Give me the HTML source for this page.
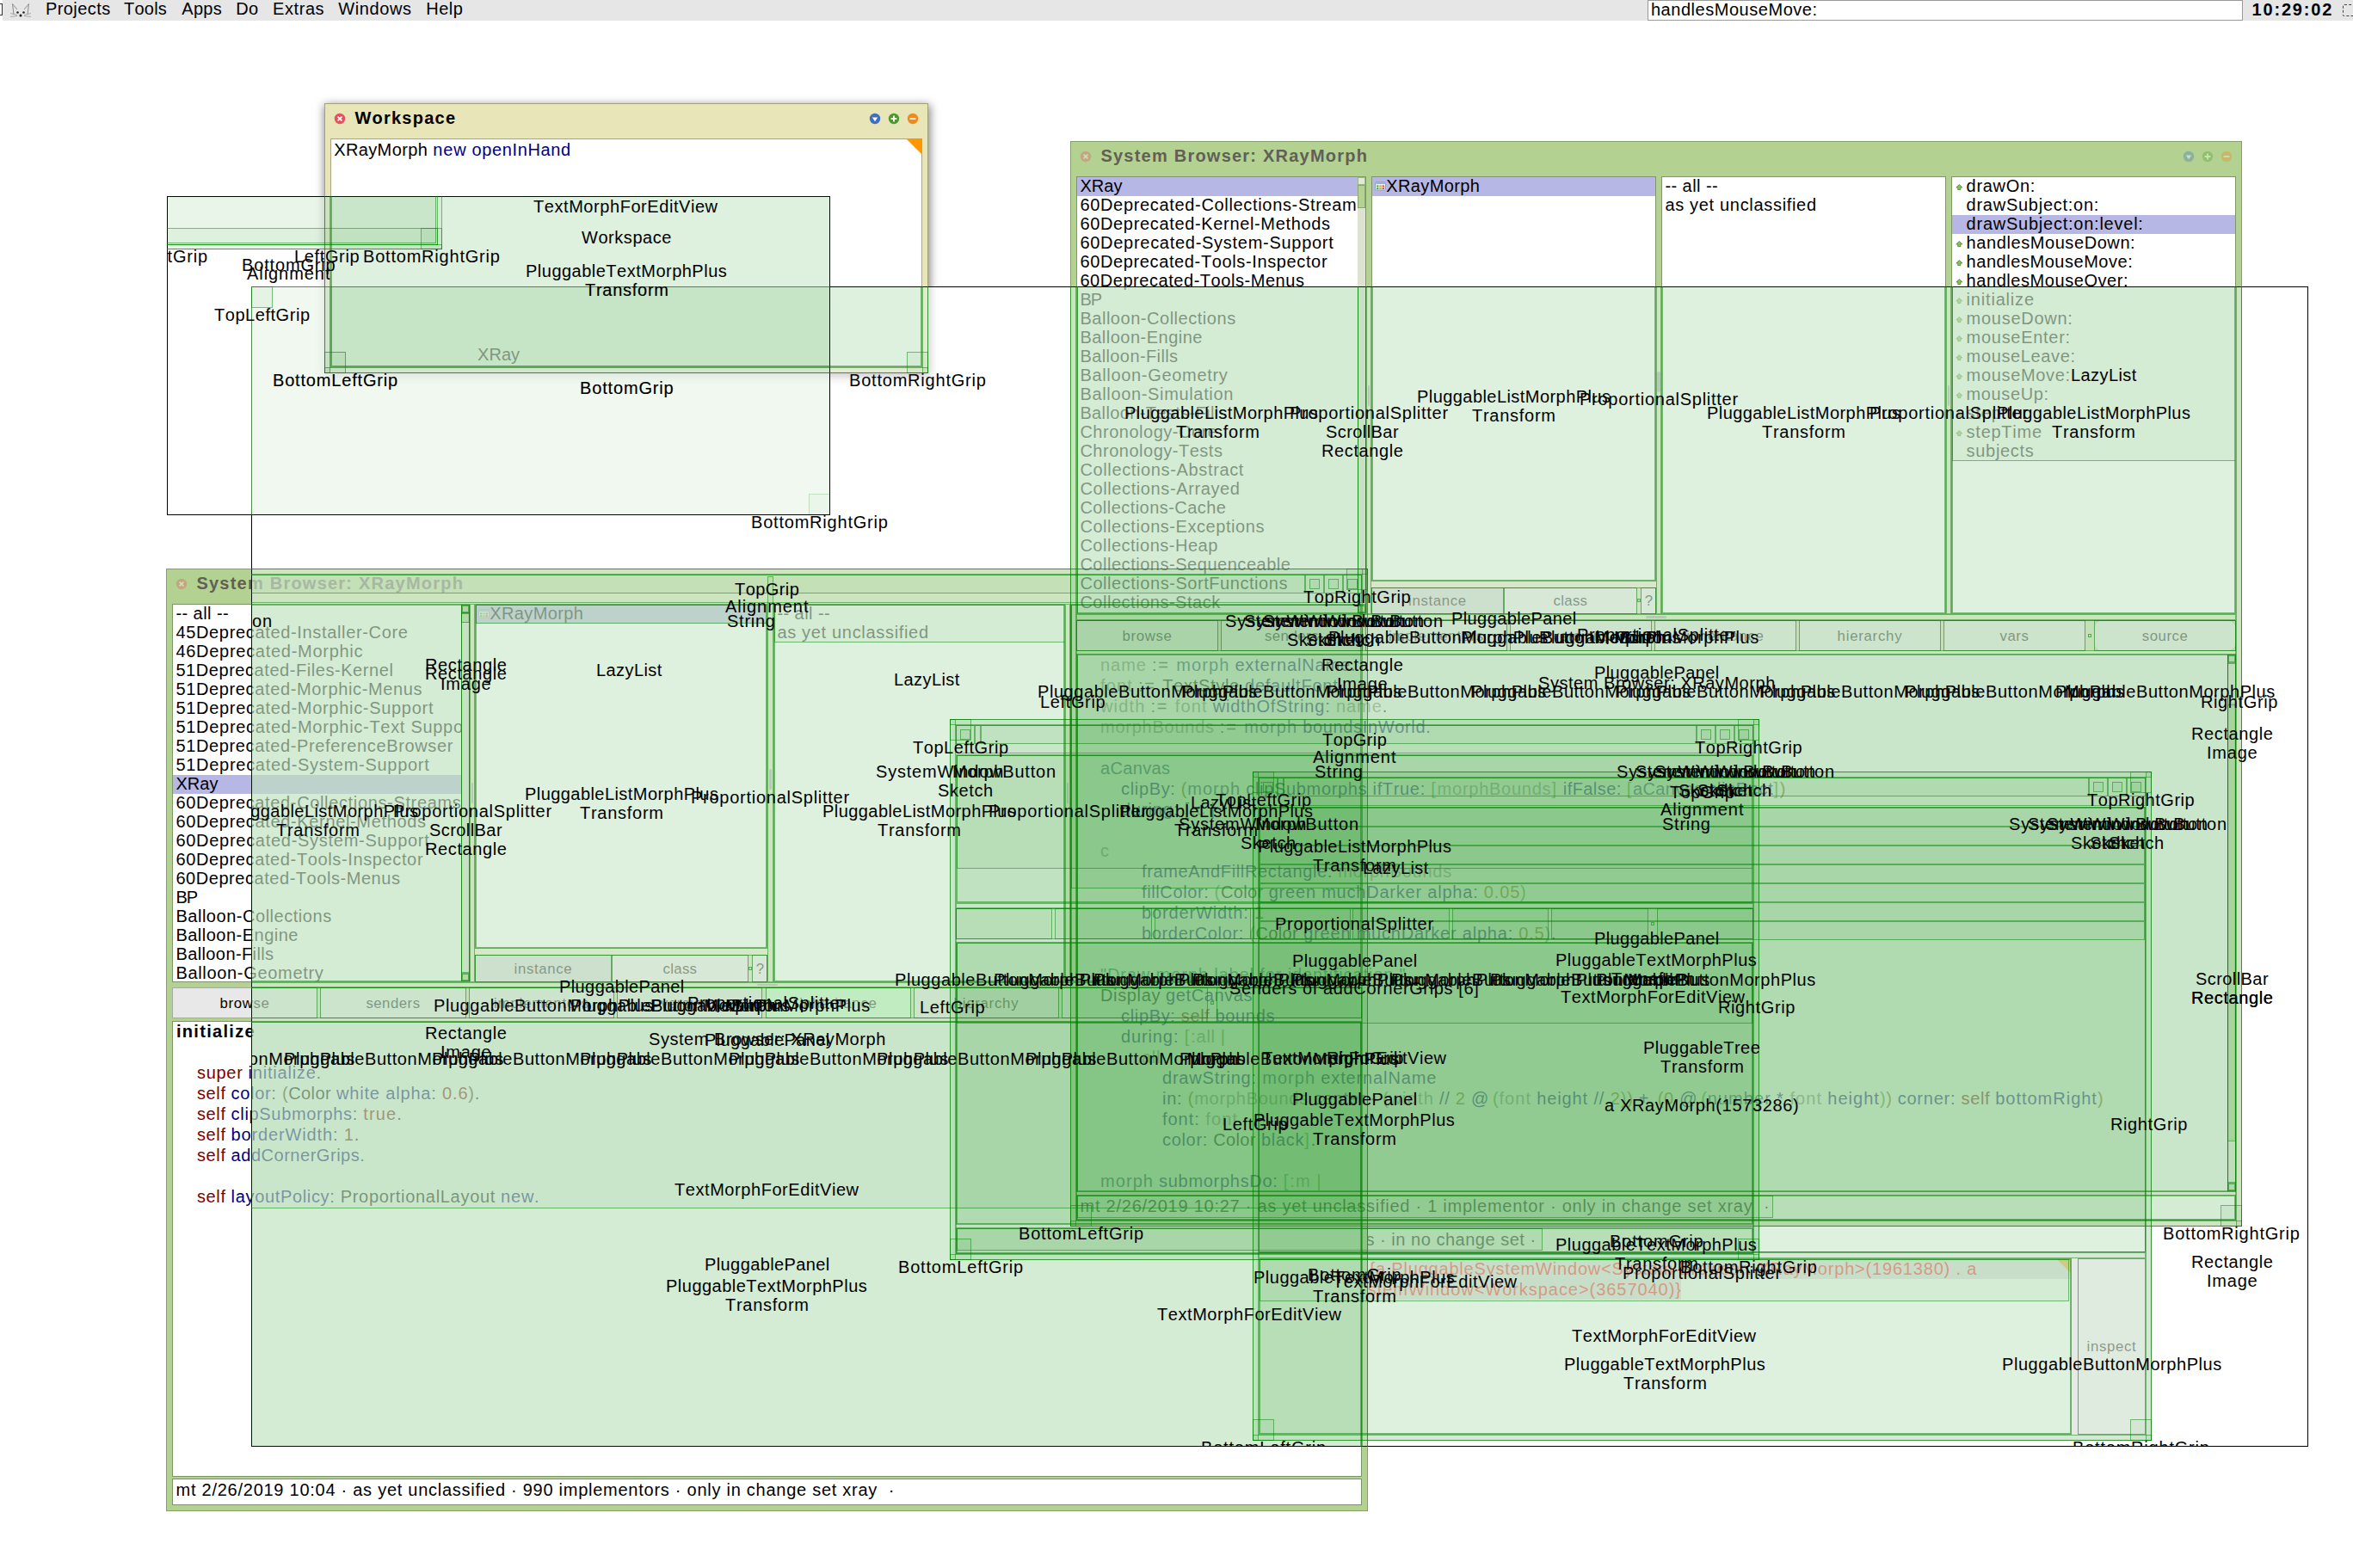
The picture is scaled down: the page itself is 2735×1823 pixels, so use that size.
<!DOCTYPE html><html><head><meta charset="utf-8"><title>Squeak XRay</title><style>
html,body{margin:0;padding:0}
body{width:2735px;height:1823px;background:#fff;position:relative;overflow:hidden;font-family:"Liberation Sans",sans-serif;color:#000}
div,span,svg{position:absolute}
span{white-space:pre;line-height:22px;height:22px;font-kerning:none}
.r{font-size:20px}
.b{font-size:20px;font-weight:bold}
.s{font-size:16.8px;color:#000}
.xray{overflow:hidden;background:rgba(255,255,255,.6)}
.xb{left:0;top:0;right:0;bottom:0;border:1px solid #000}
.g,.lb{left:0;top:0;width:100%;height:100%}
.g div{box-sizing:border-box;border:1px solid rgba(0,128,0,.5);background:rgba(0,128,0,.044);background-clip:padding-box}
.g .nf{background:none}
</style></head><body><div style="left:3px;top:0px;width:2732px;height:24px;background:#e6e6e6"></div><span class="r" style="left:52.9px;top:-0.6px;letter-spacing:0.43px">Projects</span><span class="r" style="left:144.0px;top:-0.6px;letter-spacing:0.23px">Tools</span><span class="r" style="left:211.2px;top:-0.6px;letter-spacing:0.36px">Apps</span><span class="r" style="left:274.3px;top:-0.6px;letter-spacing:0.34px">Do</span><span class="r" style="left:317.1px;top:-0.6px;letter-spacing:0.56px">Extras</span><span class="r" style="left:393.3px;top:-0.6px;letter-spacing:0.59px">Windows</span><span class="r" style="left:495.2px;top:-0.6px;letter-spacing:0.55px">Help</span><svg style="left:10px;top:2px" width="28" height="20" viewBox="0 0 28 20"><path d="M6 15L4.5 2.5L10 9M22 15L23.5 2.5L18 9" fill="none" stroke="#8a8a8a" stroke-width="1"/><path d="M2 13.5L10 15.5M2 17.5L10 16.5M26 13.5L18 15.5M26 17.5L18 16.5" stroke="#999" stroke-width=".8" fill="none"/><circle cx="10.5" cy="12.5" r="1.3" fill="#222"/><circle cx="17.5" cy="12.5" r="1.3" fill="#222"/><circle cx="14" cy="16" r="1.5" fill="#111"/></svg><div style="left:0px;top:4px;width:3px;height:14px;border:1px solid #333;border-left:none;box-sizing:border-box"></div><div style="left:1915px;top:0px;width:692px;height:24px;background:#fff;border:1px solid #9a9a9a;box-sizing:border-box"></div><span class="r" style="left:1918.9px;top:-0.3px;letter-spacing:0.54px">handlesMouseMove:</span><span class="b" style="left:2617.6px;top:-0.3px;letter-spacing:1.80px">10:29:02</span><div style="left:2723px;top:5px;width:17px;height:14px;border:1px dashed #444;box-sizing:border-box;border-radius:2px"></div><div style="left:1456px;top:897px;width:1045px;height:778px;background:#d6d6d6;border:1px solid #999;box-sizing:border-box;"></div><svg style="left:1466px;top:907px" width="16" height="16" viewBox="-8 -8 16 16"><g opacity=".33"><circle r="6.2" fill="#e8505b"/><path d="M-2.4-2.4L2.4 2.4M2.4-2.4L-2.4 2.4" stroke="#fff" stroke-width="1.7" fill="none"/></g></svg><svg style="left:2431px;top:907px" width="16" height="16" viewBox="-8 -8 16 16"><g opacity=".33"><circle r="6.2" fill="#3f6fc0"/><path d="M-3.2-1.6L3.2-1.6L0 3.2z" fill="#fff"/></g></svg><svg style="left:2453px;top:907px" width="16" height="16" viewBox="-8 -8 16 16"><g opacity=".33"><circle r="6.2" fill="#4a9c2a"/><path d="M-3.4 0H3.4M0-3.4V3.4" stroke="#fff" stroke-width="1.8" fill="none"/></g></svg><svg style="left:2475px;top:907px" width="16" height="16" viewBox="-8 -8 16 16"><g opacity=".33"><circle r="6.2" fill="#f08a1c"/><path d="M-3.4 0H3.4" stroke="#fff" stroke-width="1.8" fill="none"/></g></svg><span class="b" style="left:1491.4px;top:903.0px;letter-spacing:1.66px;color:#625f55">a XRayMorph(1573286)</span><div style="left:1463px;top:938px;width:1031px;height:518px;background:#fff;border:1px solid #9a9a9a;box-sizing:border-box;overflow:hidden;"></div><div style="left:1463px;top:1463px;width:945px;height:205px;background:#fff;border:1px solid #9a9a9a;box-sizing:border-box;overflow:hidden;"><div style="left:128px;top:0px;width:815px;height:23px;background:#d9d9d9"></div><div style="left:0px;top:23px;width:490px;height:24px;background:#d9d9d9"></div><span class="r" style="left:3.0px;top:0.0px;letter-spacing:0.63px;color:#000">self subjects </span><span class="r" style="left:127.5px;top:0.0px;letter-spacing:0.81px;color:#ff0a0a">{a PluggableSystemWindow&lt;System Browser: XRayMorph&gt;(1961380) . a</span><span class="r" style="left:3.0px;top:24.0px;letter-spacing:0.95px;color:#ff0a0a">PluggableSystemWindow&lt;Workspace&gt;(3657040)}</span><svg style="left:927px;top:0" width="16" height="16"><path d="M0 0H16V16z" fill="#f0a000"/></svg></div><div style="left:2415px;top:1463px;width:79px;height:205px;background:#e6e6e6;border:1px solid #a8a8a8;box-sizing:border-box;"></div><span class="s" style="left:2425.5px;top:1555.0px;letter-spacing:0.68px;color:#000">inspect</span><div style="left:1104px;top:836px;width:941px;height:629px;background:#c3e0e6;border:1px solid #8aa;box-sizing:border-box;"></div><svg style="left:1114px;top:846px" width="16" height="16" viewBox="-8 -8 16 16"><g opacity=".33"><circle r="6.2" fill="#e8505b"/><path d="M-2.4-2.4L2.4 2.4M2.4-2.4L-2.4 2.4" stroke="#fff" stroke-width="1.7" fill="none"/></g></svg><svg style="left:1975px;top:846px" width="16" height="16" viewBox="-8 -8 16 16"><g opacity=".33"><circle r="6.2" fill="#3f6fc0"/><path d="M-3.2-1.6L3.2-1.6L0 3.2z" fill="#fff"/></g></svg><svg style="left:1997px;top:846px" width="16" height="16" viewBox="-8 -8 16 16"><g opacity=".33"><circle r="6.2" fill="#4a9c2a"/><path d="M-3.4 0H3.4M0-3.4V3.4" stroke="#fff" stroke-width="1.8" fill="none"/></g></svg><svg style="left:2019px;top:846px" width="16" height="16" viewBox="-8 -8 16 16"><g opacity=".33"><circle r="6.2" fill="#f08a1c"/><path d="M-3.4 0H3.4" stroke="#fff" stroke-width="1.8" fill="none"/></g></svg><span class="b" style="left:1139.4px;top:842.0px;letter-spacing:1.22px;color:#625f55">Senders of addCornerGrips [6]</span><div style="left:1111px;top:877px;width:927px;height:173px;background:#fff;border:1px solid #8aa;box-sizing:border-box;overflow:hidden;"></div><div style="left:1111px;top:1095px;width:927px;height:329px;background:#fff;border:1px solid #8aa;box-sizing:border-box;overflow:hidden;"></div><div style="left:1111px;top:1427px;width:927px;height:31px;background:#fff;border:1px solid #8aa;box-sizing:border-box;overflow:hidden;"><span class="r" style="left:475.5px;top:2.0px;letter-spacing:0.52px">s · in no change set ·</span></div><div style="left:193px;top:661px;width:1397px;height:1096px;background:#b3d191;border:1px solid #86a06a;box-sizing:border-box;"></div><svg style="left:203px;top:671px" width="16" height="16" viewBox="-8 -8 16 16"><g opacity=".33"><circle r="6.2" fill="#e8505b"/><path d="M-2.4-2.4L2.4 2.4M2.4-2.4L-2.4 2.4" stroke="#fff" stroke-width="1.7" fill="none"/></g></svg><svg style="left:1520px;top:671px" width="16" height="16" viewBox="-8 -8 16 16"><g opacity=".33"><circle r="6.2" fill="#3f6fc0"/><path d="M-3.2-1.6L3.2-1.6L0 3.2z" fill="#fff"/></g></svg><svg style="left:1542px;top:671px" width="16" height="16" viewBox="-8 -8 16 16"><g opacity=".33"><circle r="6.2" fill="#4a9c2a"/><path d="M-3.4 0H3.4M0-3.4V3.4" stroke="#fff" stroke-width="1.8" fill="none"/></g></svg><svg style="left:1564px;top:671px" width="16" height="16" viewBox="-8 -8 16 16"><g opacity=".33"><circle r="6.2" fill="#f08a1c"/><path d="M-3.4 0H3.4" stroke="#fff" stroke-width="1.8" fill="none"/></g></svg><span class="b" style="left:228.4px;top:667.0px;letter-spacing:1.23px;color:#625f55">System Browser: XRayMorph</span><div style="left:200px;top:702px;width:346px;height:440px;background:#fff;border:1px solid #7f956a;box-sizing:border-box;overflow:hidden;"><div style="left:0px;top:0px;width:335px;height:438px;overflow:hidden"><div style="left:0px;top:198px;width:335px;height:22px;background:#b7b7e6"></div><span class="r" style="left:3.4px;top:-1.0px;letter-spacing:0.44px">-- all --</span><span class="r" style="left:3.4px;top:21.0px;letter-spacing:0.66px">45Deprecated-Installer-Core</span><span class="r" style="left:3.4px;top:43.0px;letter-spacing:0.72px">46Deprecated-Morphic</span><span class="r" style="left:3.4px;top:65.0px;letter-spacing:0.56px">51Deprecated-Files-Kernel</span><span class="r" style="left:3.4px;top:87.0px;letter-spacing:0.64px">51Deprecated-Morphic-Menus</span><span class="r" style="left:3.4px;top:109.0px;letter-spacing:0.70px">51Deprecated-Morphic-Support</span><span class="r" style="left:3.4px;top:131.0px;letter-spacing:0.71px">51Deprecated-Morphic-Text Support</span><span class="r" style="left:3.4px;top:153.0px;letter-spacing:0.64px">51Deprecated-PreferenceBrowser</span><span class="r" style="left:3.4px;top:175.0px;letter-spacing:0.72px">51Deprecated-System-Support</span><span class="r" style="left:3.4px;top:197.0px;letter-spacing:0.05px">XRay</span><span class="r" style="left:3.4px;top:219.0px;letter-spacing:0.65px">60Deprecated-Collections-Streams</span><span class="r" style="left:3.4px;top:241.0px;letter-spacing:0.66px">60Deprecated-Kernel-Methods</span><span class="r" style="left:3.4px;top:263.0px;letter-spacing:0.72px">60Deprecated-System-Support</span><span class="r" style="left:3.4px;top:285.0px;letter-spacing:0.63px">60Deprecated-Tools-Inspector</span><span class="r" style="left:3.4px;top:307.0px;letter-spacing:0.55px">60Deprecated-Tools-Menus</span><span class="r" style="left:3.4px;top:329.0px;letter-spacing:-1.10px">BP</span><span class="r" style="left:3.4px;top:351.0px;letter-spacing:0.53px">Balloon-Collections</span><span class="r" style="left:3.4px;top:373.0px;letter-spacing:0.49px">Balloon-Engine</span><span class="r" style="left:3.4px;top:395.0px;letter-spacing:0.40px">Balloon-Fills</span><span class="r" style="left:3.4px;top:417.0px;letter-spacing:0.68px">Balloon-Geometry</span></div><div style="left:335px;top:0px;width:9px;height:438px;background:#dde3d0"></div><div style="left:335px;top:0px;width:9px;height:9px;background:#a9cf86;border:1px solid #9ab882;box-sizing:border-box"></div><div style="left:335px;top:429px;width:9px;height:9px;background:#b4d292;border:1px solid #9ab882;box-sizing:border-box"></div><div style="left:335px;top:9px;width:9px;height:12px;background:#b4d292;border:1px solid #8aa66c;box-sizing:border-box"></div></div><div style="left:552px;top:702px;width:340px;height:401px;background:#fff;border:1px solid #7f956a;box-sizing:border-box;overflow:hidden;"><div style="left:0px;top:0px;width:338px;height:399px;overflow:hidden"><div style="left:0px;top:0px;width:339px;height:22px;background:#b7b7e6"></div><svg style="left:2.5px;top:5px" width="14" height="11" viewBox="0 0 14 11"><rect x=".5" y=".5" width="12" height="9.5" rx="1" fill="#eaf1f8" stroke="#8aa0c0"/><rect x=".5" y=".5" width="12" height="2.5" fill="#9db4d6"/><rect x="2" y="4.5" width="2.4" height="1.8" fill="#5aa040"/><rect x="5.3" y="4.5" width="2.4" height="1.8" fill="#d8a020"/><rect x="8.6" y="4.5" width="2.4" height="1.8" fill="#d05040"/><rect x="2" y="7.2" width="2.4" height="1.8" fill="#5aa040"/><rect x="5.3" y="7.2" width="2.4" height="1.8" fill="#d8a020"/><rect x="8.6" y="7.2" width="2.4" height="1.8" fill="#d05040"/></svg><span class="r" style="left:16.3px;top:-1.0px;letter-spacing:0.38px">XRayMorph</span></div></div><div style="left:899px;top:702px;width:339px;height:440px;background:#fff;border:1px solid #7f956a;box-sizing:border-box;overflow:hidden;"><div style="left:0px;top:0px;width:337px;height:438px;overflow:hidden"><span class="r" style="left:3.4px;top:-1.0px;letter-spacing:0.44px">-- all --</span><span class="r" style="left:3.4px;top:21.0px;letter-spacing:0.68px">as yet unclassified</span></div></div><div style="left:1244px;top:702px;width:339px;height:440px;background:#fff;border:1px solid #7d9368;box-sizing:border-box;overflow:hidden;"></div><div style="left:552px;top:1110px;width:159px;height:32px;background:#cfcfcf;border:1px solid #a8a8a8;box-sizing:border-box;"></div><span class="s" style="left:597.6px;top:1115.5px;letter-spacing:0.65px;color:#000">instance</span><div style="left:711px;top:1110px;width:159px;height:32px;background:#ececec;border:1px solid #a8a8a8;box-sizing:border-box;"></div><span class="s" style="left:770.6px;top:1115.5px;letter-spacing:0.29px;color:#000">class</span><div style="left:874px;top:1110px;width:18px;height:32px;background:#ececec;border:1px solid #a8a8a8;box-sizing:border-box;"></div><span class="s" style="left:878.8px;top:1115.5px;letter-spacing:-0.84px;color:#000">?</span><div style="left:871px;top:1124px;width:3px;height:4px;border:1px solid #8a8;box-sizing:border-box"></div><div style="left:548px;top:910px;width:2px;height:24px;background:#7b8478;border-radius:2px"></div><div style="left:894px;top:894px;width:3px;height:24px;background:#7b8478;border-radius:2px"></div><div style="left:1240px;top:910px;width:2px;height:24px;background:#7b8478;border-radius:2px"></div><div style="left:880px;top:1144px;width:24px;height:2px;background:#7b8478;border-radius:2px"></div><div style="left:200px;top:1148px;width:169px;height:36px;background:#e8e8e8;border:1px solid #a8a8a8;box-sizing:border-box;"></div><span class="s" style="left:255.6px;top:1155.5px;letter-spacing:0.61px;color:#000">browse</span><div style="left:372px;top:1148px;width:170px;height:36px;background:#e8e8e8;border:1px solid #a8a8a8;box-sizing:border-box;"></div><span class="s" style="left:425.4px;top:1155.5px;letter-spacing:0.50px;color:#000">senders</span><div style="left:545px;top:1148px;width:169px;height:36px;background:#e8e8e8;border:1px solid #a8a8a8;box-sizing:border-box;"></div><span class="s" style="left:574.0px;top:1155.5px;letter-spacing:0.85px;color:#000">implementors</span><div style="left:717px;top:1148px;width:169px;height:36px;background:#e8e8e8;border:1px solid #a8a8a8;box-sizing:border-box;"></div><span class="s" style="left:768.0px;top:1155.5px;letter-spacing:0.55px;color:#000">versions</span><div style="left:890px;top:1148px;width:169px;height:36px;background:#c6ffc6;border:1px solid #a8a8a8;box-sizing:border-box;"></div><span class="s" style="left:929.3px;top:1155.5px;letter-spacing:0.75px;color:#000">inheritance</span><div style="left:1062px;top:1148px;width:169px;height:36px;background:#e8e8e8;border:1px solid #a8a8a8;box-sizing:border-box;"></div><span class="s" style="left:1108.6px;top:1155.5px;letter-spacing:0.74px;color:#000">hierarchy</span><div style="left:1234px;top:1148px;width:170px;height:36px;background:#e8e8e8;border:1px solid #a8a8a8;box-sizing:border-box;"></div><span class="s" style="left:1301.9px;top:1155.5px;letter-spacing:0.61px;color:#000">vars</span><div style="left:1414px;top:1148px;width:169px;height:36px;background:#e8e8e8;border:1px solid #a8a8a8;box-sizing:border-box;border-radius:8px;"></div><span class="s" style="left:1471.8px;top:1155.5px;letter-spacing:0.51px;color:#000">source</span><div style="left:1407px;top:1164px;width:4px;height:4px;border:1px solid #6a6;box-sizing:border-box"></div><div style="left:200px;top:1187px;width:1383px;height:530px;background:#fff;border:1px solid #7d9368;box-sizing:border-box;overflow:hidden;"><span class="b" style="left:4.0px;top:0.0px;letter-spacing:1.30px;color:#000">initialize</span><span class="r" style="left:28.0px;top:48.0px;letter-spacing:0.70px;color:#800000">super</span><span class="r" style="left:87.6px;top:48.0px;letter-spacing:0.78px;color:#000080">initialize.</span><span class="r" style="left:28.0px;top:72.0px;letter-spacing:0.61px;color:#800000">self</span><span class="r" style="left:67.6px;top:72.0px;letter-spacing:0.68px;color:#000080">color: </span><span class="r" style="left:126.9px;top:72.0px;letter-spacing:0.75px;color:#404020">(</span><span class="r" style="left:134.3px;top:72.0px;letter-spacing:0.37px;color:#000000">Color</span><span class="r" style="left:189.9px;top:72.0px;letter-spacing:0.84px;color:#000080">white alpha: </span><span class="r" style="left:313.1px;top:72.0px;letter-spacing:0.81px;color:#800000">0.6</span><span class="r" style="left:343.3px;top:72.0px;letter-spacing:0.75px;color:#404020">)</span><span class="r" style="left:350.8px;top:72.0px;letter-spacing:0.48px;color:#000000">.</span><span class="r" style="left:28.0px;top:96.0px;letter-spacing:0.61px;color:#800000">self</span><span class="r" style="left:67.6px;top:96.0px;letter-spacing:0.68px;color:#000080">clipSubmorphs: </span><span class="r" style="left:221.3px;top:96.0px;letter-spacing:1.13px;color:#800000">true</span><span class="r" style="left:260.3px;top:96.0px;letter-spacing:0.48px;color:#000000">.</span><span class="r" style="left:28.0px;top:120.0px;letter-spacing:0.61px;color:#800000">self</span><span class="r" style="left:67.6px;top:120.0px;letter-spacing:0.85px;color:#000080">borderWidth: </span><span class="r" style="left:198.8px;top:120.0px;letter-spacing:0.97px;color:#800000">1</span><span class="r" style="left:210.8px;top:120.0px;letter-spacing:0.48px;color:#000000">.</span><span class="r" style="left:28.0px;top:144.0px;letter-spacing:0.61px;color:#800000">self</span><span class="r" style="left:67.6px;top:144.0px;letter-spacing:0.53px;color:#000080">addCornerGrips.</span><span class="r" style="left:28.0px;top:192.0px;letter-spacing:0.61px;color:#800000">self</span><span class="r" style="left:67.6px;top:192.0px;letter-spacing:0.66px;color:#000080">layoutPolicy: </span><span class="r" style="left:194.7px;top:192.0px;letter-spacing:0.69px;color:#000000">ProportionalLayout</span><span class="r" style="left:381.1px;top:192.0px;letter-spacing:0.77px;color:#000080">new.</span></div><div style="left:200px;top:1719px;width:1383px;height:31px;background:#fff;border:1px solid #7d9368;box-sizing:border-box;overflow:hidden;"><span class="r" style="left:3.6px;top:1.3px;letter-spacing:0.74px">mt 2/26/2019 10:04 · as yet unclassified · 990 implementors · only in change set xray  ·</span></div><div style="left:1244px;top:164px;width:1362px;height:1262px;background:#b3d191;border:1px solid #86a06a;box-sizing:border-box;"></div><svg style="left:1254px;top:174px" width="16" height="16" viewBox="-8 -8 16 16"><g opacity=".33"><circle r="6.2" fill="#e8505b"/><path d="M-2.4-2.4L2.4 2.4M2.4-2.4L-2.4 2.4" stroke="#fff" stroke-width="1.7" fill="none"/></g></svg><svg style="left:2536px;top:174px" width="16" height="16" viewBox="-8 -8 16 16"><g opacity=".33"><circle r="6.2" fill="#3f6fc0"/><path d="M-3.2-1.6L3.2-1.6L0 3.2z" fill="#fff"/></g></svg><svg style="left:2558px;top:174px" width="16" height="16" viewBox="-8 -8 16 16"><g opacity=".33"><circle r="6.2" fill="#4a9c2a"/><path d="M-3.4 0H3.4M0-3.4V3.4" stroke="#fff" stroke-width="1.8" fill="none"/></g></svg><svg style="left:2580px;top:174px" width="16" height="16" viewBox="-8 -8 16 16"><g opacity=".33"><circle r="6.2" fill="#f08a1c"/><path d="M-3.4 0H3.4" stroke="#fff" stroke-width="1.8" fill="none"/></g></svg><span class="b" style="left:1279.4px;top:170.0px;letter-spacing:1.23px;color:#625f55">System Browser: XRayMorph</span><div style="left:1251px;top:205px;width:337px;height:509px;background:#fff;border:1px solid #7f956a;box-sizing:border-box;overflow:hidden;"><div style="left:0px;top:0px;width:326px;height:507px;overflow:hidden"><div style="left:0px;top:0px;width:326px;height:22px;background:#b7b7e6"></div><span class="r" style="left:3.4px;top:-1.0px;letter-spacing:0.05px">XRay</span><span class="r" style="left:3.4px;top:21.0px;letter-spacing:0.67px">60Deprecated-Collections-Stream</span><span class="r" style="left:3.4px;top:43.0px;letter-spacing:0.66px">60Deprecated-Kernel-Methods</span><span class="r" style="left:3.4px;top:65.0px;letter-spacing:0.72px">60Deprecated-System-Support</span><span class="r" style="left:3.4px;top:87.0px;letter-spacing:0.63px">60Deprecated-Tools-Inspector</span><span class="r" style="left:3.4px;top:109.0px;letter-spacing:0.55px">60Deprecated-Tools-Menus</span><span class="r" style="left:3.4px;top:131.0px;letter-spacing:-1.10px">BP</span><span class="r" style="left:3.4px;top:153.0px;letter-spacing:0.53px">Balloon-Collections</span><span class="r" style="left:3.4px;top:175.0px;letter-spacing:0.49px">Balloon-Engine</span><span class="r" style="left:3.4px;top:197.0px;letter-spacing:0.40px">Balloon-Fills</span><span class="r" style="left:3.4px;top:219.0px;letter-spacing:0.68px">Balloon-Geometry</span><span class="r" style="left:3.4px;top:241.0px;letter-spacing:0.66px">Balloon-Simulation</span><span class="r" style="left:3.4px;top:263.0px;letter-spacing:0.37px">Balloon-Tests-Fills</span><span class="r" style="left:3.4px;top:285.0px;letter-spacing:0.51px">Chronology-Core</span><span class="r" style="left:3.4px;top:307.0px;letter-spacing:0.51px">Chronology-Tests</span><span class="r" style="left:3.4px;top:329.0px;letter-spacing:0.64px">Collections-Abstract</span><span class="r" style="left:3.4px;top:351.0px;letter-spacing:0.61px">Collections-Arrayed</span><span class="r" style="left:3.4px;top:373.0px;letter-spacing:0.45px">Collections-Cache</span><span class="r" style="left:3.4px;top:395.0px;letter-spacing:0.56px">Collections-Exceptions</span><span class="r" style="left:3.4px;top:417.0px;letter-spacing:0.51px">Collections-Heap</span><span class="r" style="left:3.4px;top:439.0px;letter-spacing:0.53px">Collections-Sequenceable</span><span class="r" style="left:3.4px;top:461.0px;letter-spacing:0.55px">Collections-SortFunctions</span><span class="r" style="left:3.4px;top:483.0px;letter-spacing:0.52px">Collections-Stack</span><span class="r" style="left:3.4px;top:505.0px;letter-spacing:0.57px">Collections-Streams</span></div><div style="left:326px;top:0px;width:9px;height:507px;background:#dde3d0"></div><div style="left:326px;top:0px;width:9px;height:9px;background:#e4e8dc;border:1px solid #9ab882;box-sizing:border-box"></div><div style="left:326px;top:498px;width:9px;height:9px;background:#b4d292;border:1px solid #9ab882;box-sizing:border-box"></div><div style="left:326px;top:9px;width:9px;height:27px;background:#b4d292;border:1px solid #8aa66c;box-sizing:border-box"></div></div><div style="left:1594px;top:205px;width:331px;height:471px;background:#fff;border:1px solid #7f956a;box-sizing:border-box;overflow:hidden;"><div style="left:0px;top:0px;width:329px;height:469px;overflow:hidden"><div style="left:0px;top:0px;width:330px;height:22px;background:#b7b7e6"></div><svg style="left:2.5px;top:5px" width="14" height="11" viewBox="0 0 14 11"><rect x=".5" y=".5" width="12" height="9.5" rx="1" fill="#eaf1f8" stroke="#8aa0c0"/><rect x=".5" y=".5" width="12" height="2.5" fill="#9db4d6"/><rect x="2" y="4.5" width="2.4" height="1.8" fill="#5aa040"/><rect x="5.3" y="4.5" width="2.4" height="1.8" fill="#d8a020"/><rect x="8.6" y="4.5" width="2.4" height="1.8" fill="#d05040"/><rect x="2" y="7.2" width="2.4" height="1.8" fill="#5aa040"/><rect x="5.3" y="7.2" width="2.4" height="1.8" fill="#d8a020"/><rect x="8.6" y="7.2" width="2.4" height="1.8" fill="#d05040"/></svg><span class="r" style="left:16.3px;top:-1.0px;letter-spacing:0.38px">XRayMorph</span></div></div><div style="left:1931px;top:205px;width:331px;height:509px;background:#fff;border:1px solid #7f956a;box-sizing:border-box;overflow:hidden;"><div style="left:0px;top:0px;width:329px;height:507px;overflow:hidden"><span class="r" style="left:3.4px;top:-1.0px;letter-spacing:0.44px">-- all --</span><span class="r" style="left:3.4px;top:21.0px;letter-spacing:0.68px">as yet unclassified</span></div></div><div style="left:2268px;top:205px;width:331px;height:509px;background:#fff;border:1px solid #7f956a;box-sizing:border-box;overflow:hidden;"><div style="left:0px;top:0px;width:329px;height:507px;overflow:hidden"><div style="left:0px;top:44px;width:330px;height:22px;background:#b7b7e6"></div><svg style="left:4.3px;top:8px" width="9" height="8" viewBox="0 0 9 8"><path d="M4.3 .6L7.8 3.9H5.8V6.6H2.8V3.9H.8z" fill="#8cc25c" stroke="#4f8a2c" stroke-width=".9"/></svg><span class="r" style="left:16.6px;top:-1.0px;letter-spacing:0.70px">drawOn:</span><span class="r" style="left:16.6px;top:21.0px;letter-spacing:0.74px">drawSubject:on:</span><span class="r" style="left:16.6px;top:43.0px;letter-spacing:0.76px">drawSubject:on:level:</span><svg style="left:4.3px;top:74px" width="9" height="8" viewBox="0 0 9 8"><path d="M4.3 .6L7.8 3.9H5.8V6.6H2.8V3.9H.8z" fill="#8cc25c" stroke="#4f8a2c" stroke-width=".9"/></svg><span class="r" style="left:16.6px;top:65.0px;letter-spacing:0.58px">handlesMouseDown:</span><svg style="left:4.3px;top:96px" width="9" height="8" viewBox="0 0 9 8"><path d="M4.3 .6L7.8 3.9H5.8V6.6H2.8V3.9H.8z" fill="#8cc25c" stroke="#4f8a2c" stroke-width=".9"/></svg><span class="r" style="left:16.6px;top:87.0px;letter-spacing:0.54px">handlesMouseMove:</span><svg style="left:4.3px;top:118px" width="9" height="8" viewBox="0 0 9 8"><path d="M4.3 .6L7.8 3.9H5.8V6.6H2.8V3.9H.8z" fill="#8cc25c" stroke="#4f8a2c" stroke-width=".9"/></svg><span class="r" style="left:16.6px;top:109.0px;letter-spacing:0.56px">handlesMouseOver:</span><svg style="left:4.3px;top:140px" width="9" height="8" viewBox="0 0 9 8"><path d="M4.3 .6L7.8 3.9H5.8V6.6H2.8V3.9H.8z" fill="#8cc25c" stroke="#4f8a2c" stroke-width=".9"/></svg><span class="r" style="left:16.6px;top:131.0px;letter-spacing:0.81px">initialize</span><svg style="left:4.3px;top:162px" width="9" height="8" viewBox="0 0 9 8"><path d="M4.3 .6L7.8 3.9H5.8V6.6H2.8V3.9H.8z" fill="#8cc25c" stroke="#4f8a2c" stroke-width=".9"/></svg><span class="r" style="left:16.6px;top:153.0px;letter-spacing:0.73px">mouseDown:</span><svg style="left:4.3px;top:184px" width="9" height="8" viewBox="0 0 9 8"><path d="M4.3 .6L7.8 3.9H5.8V6.6H2.8V3.9H.8z" fill="#8cc25c" stroke="#4f8a2c" stroke-width=".9"/></svg><span class="r" style="left:16.6px;top:175.0px;letter-spacing:0.71px">mouseEnter:</span><svg style="left:4.3px;top:206px" width="9" height="8" viewBox="0 0 9 8"><path d="M4.3 .6L7.8 3.9H5.8V6.6H2.8V3.9H.8z" fill="#8cc25c" stroke="#4f8a2c" stroke-width=".9"/></svg><span class="r" style="left:16.6px;top:197.0px;letter-spacing:0.63px">mouseLeave:</span><svg style="left:4.3px;top:228px" width="9" height="8" viewBox="0 0 9 8"><path d="M4.3 .6L7.8 3.9H5.8V6.6H2.8V3.9H.8z" fill="#8cc25c" stroke="#4f8a2c" stroke-width=".9"/></svg><span class="r" style="left:16.6px;top:219.0px;letter-spacing:0.66px">mouseMove:</span><svg style="left:4.3px;top:250px" width="9" height="8" viewBox="0 0 9 8"><path d="M4.3 .6L7.8 3.9H5.8V6.6H2.8V3.9H.8z" fill="#8cc25c" stroke="#4f8a2c" stroke-width=".9"/></svg><span class="r" style="left:16.6px;top:241.0px;letter-spacing:0.62px">mouseUp:</span><svg style="left:4.3px;top:272px" width="9" height="8" viewBox="0 0 9 8"><path d="M4.3 .6L7.8 3.9H5.8V6.6H2.8V3.9H.8z" fill="#8cc25c" stroke="#4f8a2c" stroke-width=".9"/></svg><span class="r" style="left:16.6px;top:263.0px;letter-spacing:0.82px">step</span><svg style="left:4.3px;top:294px" width="9" height="8" viewBox="0 0 9 8"><path d="M4.3 .6L7.8 3.9H5.8V6.6H2.8V3.9H.8z" fill="#8cc25c" stroke="#4f8a2c" stroke-width=".9"/></svg><span class="r" style="left:16.6px;top:285.0px;letter-spacing:0.74px">stepTime</span><span class="r" style="left:16.6px;top:307.0px;letter-spacing:0.68px">subjects</span></div></div><div style="left:1594px;top:683px;width:154px;height:31px;background:#cfcfcf;border:1px solid #a8a8a8;box-sizing:border-box;"></div><span class="s" style="left:1637.1px;top:688.0px;letter-spacing:0.65px;color:#000">instance</span><div style="left:1748px;top:683px;width:155px;height:31px;background:#ececec;border:1px solid #a8a8a8;box-sizing:border-box;"></div><span class="s" style="left:1805.6px;top:688.0px;letter-spacing:0.29px;color:#000">class</span><div style="left:1907px;top:683px;width:18px;height:31px;background:#ececec;border:1px solid #a8a8a8;box-sizing:border-box;"></div><span class="s" style="left:1911.8px;top:688.0px;letter-spacing:-0.84px;color:#000">?</span><div style="left:1904px;top:696px;width:3px;height:4px;border:1px solid #8a8;box-sizing:border-box"></div><div style="left:1590px;top:448px;width:2px;height:24px;background:#7b8478;border-radius:2px"></div><div style="left:1926px;top:432px;width:4px;height:24px;background:#7b8478;border-radius:2px"></div><div style="left:2264px;top:448px;width:2px;height:24px;background:#7b8478;border-radius:2px"></div><div style="left:1913px;top:716px;width:24px;height:3px;background:#7b8478;border-radius:2px"></div><div style="left:1251px;top:721px;width:165px;height:36px;background:#e8e8e8;border:1px solid #a8a8a8;box-sizing:border-box;"></div><span class="s" style="left:1304.6px;top:728.5px;letter-spacing:0.61px;color:#000">browse</span><div style="left:1419px;top:721px;width:165px;height:36px;background:#e8e8e8;border:1px solid #a8a8a8;box-sizing:border-box;"></div><span class="s" style="left:1469.9px;top:728.5px;letter-spacing:0.50px;color:#000">senders</span><div style="left:1587px;top:721px;width:165px;height:36px;background:#e8e8e8;border:1px solid #a8a8a8;box-sizing:border-box;"></div><span class="s" style="left:1614.0px;top:728.5px;letter-spacing:0.85px;color:#000">implementors</span><div style="left:1755px;top:721px;width:165px;height:36px;background:#e8e8e8;border:1px solid #a8a8a8;box-sizing:border-box;"></div><span class="s" style="left:1804.0px;top:728.5px;letter-spacing:0.55px;color:#000">versions</span><div style="left:1923px;top:721px;width:165px;height:36px;background:#e8e8e8;border:1px solid #a8a8a8;box-sizing:border-box;"></div><span class="s" style="left:1960.3px;top:728.5px;letter-spacing:0.75px;color:#000">inheritance</span><div style="left:2091px;top:721px;width:165px;height:36px;background:#e8e8e8;border:1px solid #a8a8a8;box-sizing:border-box;"></div><span class="s" style="left:2135.6px;top:728.5px;letter-spacing:0.74px;color:#000">hierarchy</span><div style="left:2259px;top:721px;width:165px;height:36px;background:#e8e8e8;border:1px solid #a8a8a8;box-sizing:border-box;"></div><span class="s" style="left:2324.4px;top:728.5px;letter-spacing:0.61px;color:#000">vars</span><div style="left:2434px;top:721px;width:165px;height:36px;background:#e8e8e8;border:1px solid #a8a8a8;box-sizing:border-box;border-radius:8px;"></div><span class="s" style="left:2489.8px;top:728.5px;letter-spacing:0.51px;color:#000">source</span><div style="left:2427px;top:737px;width:4px;height:4px;border:1px solid #6a6;box-sizing:border-box"></div><div style="left:1251px;top:760px;width:1348px;height:626px;background:#fff;border:1px solid #7d9368;box-sizing:border-box;overflow:hidden;"><span class="r" style="left:27.0px;top:0.9px;letter-spacing:0.96px;color:#808080">name</span><span class="r" style="left:86.9px;top:0.9px;letter-spacing:1.85px;color:#303030">:= </span><span class="r" style="left:115.3px;top:0.9px;letter-spacing:1.07px;color:#203878">morph</span><span class="r" style="left:183.4px;top:0.9px;letter-spacing:0.84px;color:#000080">externalName.</span><span class="r" style="left:27.0px;top:24.9px;letter-spacing:1.11px;color:#808080">font</span><span class="r" style="left:70.9px;top:24.9px;letter-spacing:1.85px;color:#303030">:= </span><span class="r" style="left:99.2px;top:24.9px;letter-spacing:0.71px;color:#000000">TextStyle</span><span class="r" style="left:195.0px;top:24.9px;letter-spacing:0.77px;color:#000080">defaultFont.</span><span class="r" style="left:27.0px;top:48.9px;letter-spacing:1.14px;color:#808080">width</span><span class="r" style="left:85.4px;top:48.9px;letter-spacing:1.85px;color:#303030">:= </span><span class="r" style="left:113.8px;top:48.9px;letter-spacing:1.11px;color:#808080">font</span><span class="r" style="left:157.7px;top:48.9px;letter-spacing:0.80px;color:#000080">widthOfString: </span><span class="r" style="left:300.9px;top:48.9px;letter-spacing:0.96px;color:#808080">name</span><span class="r" style="left:354.8px;top:48.9px;letter-spacing:0.48px;color:#000000">.</span><span class="r" style="left:27.0px;top:72.9px;letter-spacing:0.75px;color:#808080">morphBounds</span><span class="r" style="left:165.8px;top:72.9px;letter-spacing:1.85px;color:#303030">:= </span><span class="r" style="left:194.2px;top:72.9px;letter-spacing:1.07px;color:#203878">morph</span><span class="r" style="left:262.3px;top:72.9px;letter-spacing:0.64px;color:#000080">boundsInWorld.</span><span class="r" style="left:27.0px;top:120.9px;letter-spacing:0.35px;color:#203878">aCanvas</span><span class="r" style="left:51.0px;top:144.9px;letter-spacing:0.67px;color:#000080">clipBy: </span><span class="r" style="left:120.8px;top:144.9px;letter-spacing:0.75px;color:#806000">(</span><span class="r" style="left:128.2px;top:144.9px;letter-spacing:1.07px;color:#203878">morph</span><span class="r" style="left:196.3px;top:144.9px;letter-spacing:0.67px;color:#000080">clipSubmorphs ifTrue: </span><span class="r" style="left:411.2px;top:144.9px;letter-spacing:1.84px;color:#3a9a3a">[</span><span class="r" style="left:418.6px;top:144.9px;letter-spacing:0.75px;color:#808080">morphBounds</span><span class="r" style="left:551.4px;top:144.9px;letter-spacing:1.84px;color:#3a9a3a">]</span><span class="r" style="left:564.8px;top:144.9px;letter-spacing:0.43px;color:#000080">ifFalse: </span><span class="r" style="left:638.7px;top:144.9px;letter-spacing:1.84px;color:#3a9a3a">[</span><span class="r" style="left:646.1px;top:144.9px;letter-spacing:0.35px;color:#203878">aCanvas</span><span class="r" style="left:733.5px;top:144.9px;letter-spacing:0.59px;color:#000080">clipRect</span><span class="r" style="left:809.4px;top:144.9px;letter-spacing:1.84px;color:#3a9a3a">]</span><span class="r" style="left:816.8px;top:144.9px;letter-spacing:0.75px;color:#806000">)</span><span class="r" style="left:51.0px;top:168.9px;letter-spacing:0.88px;color:#000080">during: </span><span class="r" style="left:124.8px;top:168.9px;letter-spacing:1.84px;color:#000000">[</span><span class="r" style="left:132.2px;top:168.9px;letter-spacing:0.65px;color:#808080">:c</span><span class="r" style="left:155.1px;top:168.9px;letter-spacing:1.20px;color:#000000">|</span><span class="r" style="left:27.0px;top:216.9px;letter-spacing:0.45px;color:#808080">c</span><span class="r" style="left:75.0px;top:240.9px;letter-spacing:0.64px;color:#000080">frameAndFillRectangle: </span><span class="r" style="left:303.2px;top:240.9px;letter-spacing:0.75px;color:#808080">morphBounds</span><span class="r" style="left:75.0px;top:264.9px;letter-spacing:0.62px;color:#000080">fillColor: </span><span class="r" style="left:159.6px;top:264.9px;letter-spacing:0.75px;color:#3a9a3a">(</span><span class="r" style="left:167.0px;top:264.9px;letter-spacing:0.37px;color:#000000">Color</span><span class="r" style="left:222.7px;top:264.9px;letter-spacing:0.79px;color:#000080">green muchDarker alpha: </span><span class="r" style="left:472.8px;top:264.9px;letter-spacing:0.85px;color:#806000">0.05</span><span class="r" style="left:515.1px;top:264.9px;letter-spacing:0.75px;color:#3a9a3a">)</span><span class="r" style="left:75.0px;top:288.9px;letter-spacing:0.85px;color:#000080">borderWidth: </span><span class="r" style="left:206.1px;top:288.9px;letter-spacing:0.97px;color:#800000">1</span><span class="r" style="left:75.0px;top:312.9px;letter-spacing:0.65px;color:#000080">borderColor: </span><span class="r" style="left:200.1px;top:312.9px;letter-spacing:0.75px;color:#3a9a3a">(</span><span class="r" style="left:207.5px;top:312.9px;letter-spacing:0.37px;color:#000000">Color</span><span class="r" style="left:263.2px;top:312.9px;letter-spacing:0.79px;color:#000080">green muchDarker alpha: </span><span class="r" style="left:513.3px;top:312.9px;letter-spacing:0.81px;color:#806000">0.5</span><span class="r" style="left:543.6px;top:312.9px;letter-spacing:0.75px;color:#3a9a3a">)</span><span class="r" style="left:551.0px;top:312.9px;letter-spacing:0.48px;color:#000000">.</span><span class="r" style="left:27.0px;top:360.9px;letter-spacing:0.88px;color:#007070">"Draw morph label for identification."</span><span class="r" style="left:27.0px;top:384.9px;letter-spacing:0.64px;color:#000000">Display</span><span class="r" style="left:103.1px;top:384.9px;letter-spacing:0.59px;color:#000080">getCanvas</span><span class="r" style="left:51.0px;top:408.9px;letter-spacing:0.67px;color:#000080">clipBy: </span><span class="r" style="left:120.8px;top:408.9px;letter-spacing:0.61px;color:#800000">self</span><span class="r" style="left:160.4px;top:408.9px;letter-spacing:0.69px;color:#000080">bounds</span><span class="r" style="left:51.0px;top:432.9px;letter-spacing:0.88px;color:#000080">during: </span><span class="r" style="left:124.8px;top:432.9px;letter-spacing:1.84px;color:#3a9a3a">[</span><span class="r" style="left:132.2px;top:432.9px;letter-spacing:0.76px;color:#808080">:all</span><span class="r" style="left:166.8px;top:432.9px;letter-spacing:1.20px;color:#3a9a3a">|</span><span class="r" style="left:75.0px;top:456.9px;letter-spacing:0.73px;color:#808080">all</span><span class="r" style="left:99.0px;top:480.9px;letter-spacing:0.79px;color:#000080">drawString: </span><span class="r" style="left:215.2px;top:480.9px;letter-spacing:1.07px;color:#203878">morph</span><span class="r" style="left:283.3px;top:480.9px;letter-spacing:0.87px;color:#000080">externalName</span><span class="r" style="left:99.0px;top:504.9px;letter-spacing:0.77px;color:#000080">in: </span><span class="r" style="left:128.8px;top:504.9px;letter-spacing:0.75px;color:#806000">(</span><span class="r" style="left:136.2px;top:504.9px;letter-spacing:0.75px;color:#808080">morphBounds</span><span class="r" style="left:275.0px;top:504.9px;letter-spacing:0.75px;color:#000080">center - </span><span class="r" style="left:355.1px;top:504.9px;letter-spacing:0.75px;color:#3a9a3a">(</span><span class="r" style="left:362.5px;top:504.9px;letter-spacing:1.14px;color:#808080">width</span><span class="r" style="left:421.0px;top:504.9px;letter-spacing:0.72px;color:#000080">// </span><span class="r" style="left:439.8px;top:504.9px;letter-spacing:0.97px;color:#806000">2</span><span class="r" style="left:458.0px;top:504.9px;letter-spacing:-0.41px;color:#000080">@ </span><span class="r" style="left:483.0px;top:504.9px;letter-spacing:0.75px;color:#3a9a3a">(</span><span class="r" style="left:490.4px;top:504.9px;letter-spacing:1.11px;color:#808080">font</span><span class="r" style="left:534.3px;top:504.9px;letter-spacing:0.87px;color:#000080">height // </span><span class="r" style="left:619.8px;top:504.9px;letter-spacing:0.97px;color:#806000">2</span><span class="r" style="left:631.8px;top:504.9px;letter-spacing:0.75px;color:#3a9a3a">)</span><span class="r" style="left:639.2px;top:504.9px;letter-spacing:0.75px;color:#806000">)</span><span class="r" style="left:652.7px;top:504.9px;letter-spacing:2.36px;color:#000080">+ </span><span class="r" style="left:674.7px;top:504.9px;letter-spacing:0.75px;color:#806000">(</span><span class="r" style="left:682.1px;top:504.9px;letter-spacing:0.97px;color:#806000">0</span><span class="r" style="left:700.2px;top:504.9px;letter-spacing:-0.41px;color:#000080">@ </span><span class="r" style="left:725.3px;top:504.9px;letter-spacing:0.75px;color:#3a9a3a">(</span><span class="r" style="left:732.7px;top:504.9px;letter-spacing:1.06px;color:#203878">number</span><span class="r" style="left:812.9px;top:504.9px;letter-spacing:1.10px;color:#000080">* </span><span class="r" style="left:828.4px;top:504.9px;letter-spacing:1.11px;color:#808080">font</span><span class="r" style="left:872.3px;top:504.9px;letter-spacing:1.01px;color:#000080">height</span><span class="r" style="left:932.9px;top:504.9px;letter-spacing:0.75px;color:#3a9a3a">)</span><span class="r" style="left:940.3px;top:504.9px;letter-spacing:0.75px;color:#806000">)</span><span class="r" style="left:953.7px;top:504.9px;letter-spacing:0.76px;color:#000080">corner: </span><span class="r" style="left:1027.6px;top:504.9px;letter-spacing:0.61px;color:#800000">self</span><span class="r" style="left:1067.2px;top:504.9px;letter-spacing:0.99px;color:#000080">bottomRight</span><span class="r" style="left:1186.0px;top:504.9px;letter-spacing:0.75px;color:#806000">)</span><span class="r" style="left:99.0px;top:528.9px;letter-spacing:0.96px;color:#000080">font: </span><span class="r" style="left:149.3px;top:528.9px;letter-spacing:1.11px;color:#808080">font</span><span class="r" style="left:99.0px;top:552.9px;letter-spacing:0.68px;color:#000080">color: </span><span class="r" style="left:158.2px;top:552.9px;letter-spacing:0.37px;color:#000000">Color</span><span class="r" style="left:213.9px;top:552.9px;letter-spacing:0.75px;color:#000080">black</span><span class="r" style="left:264.3px;top:552.9px;letter-spacing:1.84px;color:#3a9a3a">]</span><span class="r" style="left:271.8px;top:552.9px;letter-spacing:0.48px;color:#000000">.</span><span class="r" style="left:27.0px;top:600.9px;letter-spacing:1.07px;color:#203878">morph</span><span class="r" style="left:95.1px;top:600.9px;letter-spacing:0.70px;color:#000080">submorphsDo: </span><span class="r" style="left:239.8px;top:600.9px;letter-spacing:1.84px;color:#3a9a3a">[</span><span class="r" style="left:247.2px;top:600.9px;letter-spacing:1.35px;color:#808080">:m</span><span class="r" style="left:278.2px;top:600.9px;letter-spacing:1.20px;color:#3a9a3a">|</span><span class="r" style="left:51.0px;top:624.9px;letter-spacing:0.61px;color:#800000">self</span><span class="r" style="left:90.6px;top:624.9px;letter-spacing:0.72px;color:#000080">drawSubject: </span><span class="r" style="left:221.2px;top:624.9px;letter-spacing:1.86px;color:#808080">m</span><span class="r" style="left:245.7px;top:624.9px;letter-spacing:0.69px;color:#000080">on: </span><span class="r" style="left:281.9px;top:624.9px;letter-spacing:0.45px;color:#808080">c</span><span class="r" style="left:298.4px;top:624.9px;letter-spacing:0.77px;color:#000080">level: </span><span class="r" style="left:356.0px;top:624.9px;letter-spacing:1.06px;color:#203878">number</span><span class="r" style="left:436.2px;top:624.9px;letter-spacing:2.36px;color:#000080">+ </span><span class="r" style="left:458.2px;top:624.9px;letter-spacing:0.97px;color:#806000">1</span><span class="r" style="left:470.3px;top:624.9px;letter-spacing:1.84px;color:#3a9a3a">]</span><span class="r" style="left:477.7px;top:624.9px;letter-spacing:1.84px;color:#000000">]</span><span class="r" style="left:485.1px;top:624.9px;letter-spacing:0.48px;color:#000000">.</span><div style="left:1337px;top:0px;width:9px;height:624px;background:#dde3d0"></div><div style="left:1337px;top:0px;width:9px;height:9px;background:#c9d9b4"></div><div style="left:1337px;top:615px;width:9px;height:9px;background:#c9d9b4"></div><div style="left:1337px;top:56px;width:9px;height:508px;background:#b4d292;border:1px solid #8aa66c;box-sizing:border-box"></div></div><div style="left:1251px;top:1389px;width:1348px;height:30px;background:#fff;border:1px solid #7d9368;box-sizing:border-box;overflow:hidden;"><span class="r" style="left:3.6px;top:1.3px;letter-spacing:0.75px">mt 2/26/2019 10:27 · as yet unclassified · 1 implementor · only in change set xray  ·</span></div><div style="left:377px;top:120px;width:702px;height:314px;background:#e8e5b9;border:1px solid #a3a17c;box-sizing:border-box;box-shadow:1px 3px 10px 1px rgba(0,0,0,.5);"></div><svg style="left:387px;top:130px" width="16" height="16" viewBox="-8 -8 16 16"><g><circle r="6.2" fill="#e8505b"/><path d="M-2.4-2.4L2.4 2.4M2.4-2.4L-2.4 2.4" stroke="#fff" stroke-width="1.7" fill="none"/></g></svg><svg style="left:1009px;top:130px" width="16" height="16" viewBox="-8 -8 16 16"><g><circle r="6.2" fill="#3f6fc0"/><path d="M-3.2-1.6L3.2-1.6L0 3.2z" fill="#fff"/></g></svg><svg style="left:1031px;top:130px" width="16" height="16" viewBox="-8 -8 16 16"><g><circle r="6.2" fill="#4a9c2a"/><path d="M-3.4 0H3.4M0-3.4V3.4" stroke="#fff" stroke-width="1.8" fill="none"/></g></svg><svg style="left:1053px;top:130px" width="16" height="16" viewBox="-8 -8 16 16"><g><circle r="6.2" fill="#f08a1c"/><path d="M-3.4 0H3.4" stroke="#fff" stroke-width="1.8" fill="none"/></g></svg><span class="b" style="left:412.4px;top:126.0px;letter-spacing:1.24px;color:#000">Workspace</span><div style="left:384px;top:161px;width:688px;height:266px;background:#fff;border:1px solid #a8a680;box-sizing:border-box;overflow:hidden;"><span class="r" style="left:3.2px;top:1.0px;letter-spacing:0.38px;color:#000">XRayMorph</span><span class="r" style="left:118.3px;top:1.0px;letter-spacing:0.86px;color:#000080">new</span><span class="r" style="left:163.6px;top:1.0px;letter-spacing:0.61px;color:#000080">openInHand</span><svg style="left:669px;top:0" width="17" height="17"><path d="M0 0H17V17z" fill="#ff9800"/></svg></div><div class="xray" style="left:292px;top:333px;width:2391px;height:1349px"><div class="xb"></div><div class="g"><div style="left:1164px;top:564px;width:1045px;height:778px;"></div><div style="left:1164px;top:564px;width:25px;height:25px;"></div><div style="left:2184px;top:564px;width:25px;height:25px;"></div><div style="left:1164px;top:1317px;width:25px;height:25px;"></div><div style="left:2184px;top:1317px;width:25px;height:25px;"></div><div style="left:1164px;top:564px;width:7px;height:778px;"></div><div style="left:2202px;top:564px;width:7px;height:778px;"></div><div style="left:1164px;top:564px;width:1045px;height:7px;"></div><div style="left:1164px;top:1335px;width:1045px;height:7px;"></div><div style="left:1171px;top:571px;width:1031px;height:33px;"></div><div style="left:1171px;top:571px;width:22px;height:22px;"></div><div style="left:1176px;top:576px;width:12px;height:12px;"></div><div style="left:1193px;top:571px;width:7px;height:22px;"></div><div style="left:1200px;top:571px;width:936px;height:22px;"></div><div style="left:2136px;top:571px;width:22px;height:22px;"></div><div style="left:2141px;top:576px;width:12px;height:12px;"></div><div style="left:2158px;top:571px;width:22px;height:22px;"></div><div style="left:2163px;top:576px;width:12px;height:12px;"></div><div style="left:2180px;top:571px;width:22px;height:22px;"></div><div style="left:2185px;top:576px;width:12px;height:12px;"></div><div style="left:1171px;top:605px;width:1031px;height:518px;"></div><div style="left:1171px;top:605px;width:1031px;height:518px;"></div><div style="left:1172px;top:606px;width:1029px;height:22px;"></div><div style="left:1172px;top:628px;width:1029px;height:22px;"></div><div style="left:1172px;top:650px;width:1029px;height:22px;"></div><div style="left:1172px;top:672px;width:1029px;height:22px;"></div><div style="left:1172px;top:694px;width:1029px;height:22px;"></div><div style="left:1172px;top:716px;width:1029px;height:22px;"></div><div style="left:1172px;top:738px;width:1029px;height:22px;"></div><div style="left:1171px;top:1123px;width:1031px;height:7px;"></div><div style="left:1171px;top:1130px;width:945px;height:205px;"></div><div style="left:1172px;top:1131px;width:943px;height:203px;"></div><div style="left:1172px;top:1131px;width:941px;height:49px;"></div><div style="left:2123px;top:1130px;width:79px;height:205px;"></div><div style="left:812px;top:503px;width:941px;height:629px;"></div><div style="left:812px;top:503px;width:25px;height:25px;"></div><div style="left:1728px;top:503px;width:25px;height:25px;"></div><div style="left:812px;top:1107px;width:25px;height:25px;"></div><div style="left:1728px;top:1107px;width:25px;height:25px;"></div><div style="left:812px;top:503px;width:7px;height:629px;"></div><div style="left:1746px;top:503px;width:7px;height:629px;"></div><div style="left:812px;top:503px;width:941px;height:7px;"></div><div style="left:812px;top:1125px;width:941px;height:7px;"></div><div style="left:819px;top:510px;width:927px;height:33px;"></div><div style="left:819px;top:510px;width:22px;height:22px;"></div><div style="left:824px;top:515px;width:12px;height:12px;"></div><div style="left:841px;top:510px;width:7px;height:22px;"></div><div style="left:848px;top:510px;width:832px;height:22px;"></div><div style="left:1680px;top:510px;width:22px;height:22px;"></div><div style="left:1685px;top:515px;width:12px;height:12px;"></div><div style="left:1702px;top:510px;width:22px;height:22px;"></div><div style="left:1707px;top:515px;width:12px;height:12px;"></div><div style="left:1724px;top:510px;width:22px;height:22px;"></div><div style="left:1729px;top:515px;width:12px;height:12px;"></div><div style="left:819px;top:544px;width:927px;height:173px;"></div><div style="left:820px;top:545px;width:925px;height:171px;"></div><div style="left:820px;top:545px;width:1020px;height:132px;clip-path:inset(0px 95px 0px 0px);"></div><div style="left:819px;top:717px;width:927px;height:6px;"></div><div style="left:819px;top:723px;width:927px;height:402px;"></div><div style="left:819px;top:723px;width:927px;height:36px;"></div><div style="left:819px;top:723px;width:112px;height:36px;"></div><div style="left:934px;top:723px;width:113px;height:36px;"></div><div style="left:1050px;top:723px;width:112px;height:36px;"></div><div style="left:1165px;top:723px;width:113px;height:36px;"></div><div style="left:1280px;top:723px;width:113px;height:36px;"></div><div style="left:1396px;top:723px;width:112px;height:36px;"></div><div style="left:1511px;top:723px;width:113px;height:36px;"></div><div style="left:1634px;top:723px;width:112px;height:36px;"></div><div style="left:1627px;top:739px;width:4px;height:4px;"></div><div style="left:819px;top:762px;width:927px;height:329px;"></div><div style="left:820px;top:763px;width:925px;height:327px;"></div><div style="left:820px;top:763px;width:925px;height:94px;"></div><div style="left:819px;top:1094px;width:927px;height:31px;"></div><div style="left:820px;top:1095px;width:925px;height:29px;"></div><div style="left:820px;top:1095px;width:681px;height:26px;"></div><div style="left:-99px;top:328px;width:1397px;height:1096px;"></div><div style="left:1273px;top:328px;width:25px;height:25px;"></div><div style="left:1291px;top:328px;width:7px;height:1096px;"></div><div style="left:-99px;top:328px;width:1397px;height:7px;"></div><div style="left:-92px;top:335px;width:1383px;height:33px;"></div><div style="left:-63px;top:335px;width:1288px;height:22px;"></div><div style="left:1225px;top:335px;width:22px;height:22px;"></div><div style="left:1230px;top:340px;width:12px;height:12px;"></div><div style="left:1247px;top:335px;width:22px;height:22px;"></div><div style="left:1252px;top:340px;width:12px;height:12px;"></div><div style="left:1269px;top:335px;width:22px;height:22px;"></div><div style="left:1274px;top:340px;width:12px;height:12px;"></div><div style="left:-92px;top:369px;width:346px;height:440px;"></div><div style="left:-91px;top:370px;width:336px;height:438px;"></div><div style="left:-91px;top:170px;width:365px;height:6199px;clip-path:inset(200px 29px 5561px 0px);"></div><div style="left:244px;top:370px;width:10px;height:438px;"></div><div style="left:244px;top:370px;width:10px;height:10px;"></div><div style="left:245px;top:371px;width:8px;height:8px;"></div><div style="left:244px;top:798px;width:10px;height:10px;"></div><div style="left:245px;top:799px;width:8px;height:8px;"></div><div style="left:244px;top:380px;width:10px;height:418px;"></div><div style="left:244px;top:379px;width:10px;height:12px;"></div><div style="left:260px;top:369px;width:340px;height:401px;"></div><div style="left:261px;top:370px;width:338px;height:399px;"></div><div style="left:261px;top:370px;width:356px;height:22px;clip-path:inset(0px 18px 0px 0px);"></div><div style="left:607px;top:369px;width:339px;height:440px;"></div><div style="left:608px;top:370px;width:337px;height:438px;"></div><div style="left:608px;top:370px;width:354px;height:44px;clip-path:inset(0px 17px 0px 0px);"></div><div style="left:952px;top:369px;width:339px;height:440px;"></div><div style="left:953px;top:370px;width:337px;height:438px;"></div><div style="left:953px;top:370px;width:355px;height:330px;clip-path:inset(0px 18px 0px 0px);"></div><div style="left:260px;top:777px;width:340px;height:32px;"></div><div style="left:260px;top:777px;width:159px;height:32px;"></div><div style="left:419px;top:777px;width:159px;height:32px;"></div><div style="left:582px;top:777px;width:18px;height:32px;"></div><div style="left:578px;top:791px;width:4px;height:4px;"></div><div style="left:254px;top:369px;width:6px;height:440px;"></div><div style="left:600px;top:337px;width:7px;height:472px;"></div><div style="left:946px;top:369px;width:6px;height:440px;"></div><div style="left:-92px;top:809px;width:1383px;height:6px;"></div><div style="left:-92px;top:815px;width:1383px;height:602px;"></div><div style="left:-92px;top:815px;width:1383px;height:36px;"></div><div style="left:-92px;top:815px;width:169px;height:36px;"></div><div style="left:80px;top:815px;width:170px;height:36px;"></div><div style="left:253px;top:815px;width:169px;height:36px;"></div><div style="left:425px;top:815px;width:169px;height:36px;"></div><div style="left:598px;top:815px;width:169px;height:36px;"></div><div style="left:770px;top:815px;width:169px;height:36px;"></div><div style="left:942px;top:815px;width:170px;height:36px;"></div><div style="left:1122px;top:815px;width:169px;height:36px;"></div><div style="left:1115px;top:831px;width:4px;height:4px;"></div><div style="left:-92px;top:854px;width:1383px;height:530px;"></div><div style="left:-91px;top:855px;width:1381px;height:528px;"></div><div style="left:-91px;top:855px;width:1381px;height:217px;"></div><div style="left:952px;top:-169px;width:1362px;height:1262px;"></div><div style="left:952px;top:1068px;width:25px;height:25px;"></div><div style="left:2289px;top:1068px;width:25px;height:25px;"></div><div style="left:952px;top:-169px;width:7px;height:1262px;"></div><div style="left:2307px;top:-169px;width:7px;height:1262px;"></div><div style="left:952px;top:1086px;width:1362px;height:7px;"></div><div style="left:959px;top:-128px;width:337px;height:509px;"></div><div style="left:960px;top:-127px;width:327px;height:507px;"></div><div style="left:960px;top:-327px;width:356px;height:6199px;clip-path:inset(200px 29px 5492px 0px);"></div><div style="left:1286px;top:-127px;width:10px;height:507px;"></div><div style="left:1286px;top:370px;width:10px;height:10px;"></div><div style="left:1287px;top:371px;width:8px;height:8px;"></div><div style="left:1286px;top:-117px;width:10px;height:487px;"></div><div style="left:1302px;top:-128px;width:331px;height:471px;"></div><div style="left:1303px;top:-127px;width:329px;height:469px;"></div><div style="left:1639px;top:-128px;width:331px;height:509px;"></div><div style="left:1640px;top:-127px;width:329px;height:507px;"></div><div style="left:1976px;top:-128px;width:331px;height:509px;"></div><div style="left:1977px;top:-127px;width:329px;height:507px;"></div><div style="left:1977px;top:-127px;width:352px;height:330px;clip-path:inset(0px 23px 0px 0px);"></div><div style="left:1302px;top:350px;width:331px;height:31px;"></div><div style="left:1302px;top:350px;width:154px;height:31px;"></div><div style="left:1456px;top:350px;width:155px;height:31px;"></div><div style="left:1615px;top:350px;width:18px;height:31px;"></div><div style="left:1611px;top:363px;width:4px;height:4px;"></div><div style="left:1296px;top:-128px;width:6px;height:509px;"></div><div style="left:1633px;top:-160px;width:6px;height:541px;"></div><div style="left:1970px;top:-128px;width:6px;height:509px;"></div><div style="left:959px;top:381px;width:1348px;height:7px;"></div><div style="left:959px;top:388px;width:1348px;height:698px;"></div><div style="left:959px;top:388px;width:1348px;height:36px;"></div><div style="left:959px;top:388px;width:165px;height:36px;"></div><div style="left:1127px;top:388px;width:165px;height:36px;"></div><div style="left:1295px;top:388px;width:165px;height:36px;"></div><div style="left:1463px;top:388px;width:165px;height:36px;"></div><div style="left:1631px;top:388px;width:165px;height:36px;"></div><div style="left:1799px;top:388px;width:165px;height:36px;"></div><div style="left:1967px;top:388px;width:165px;height:36px;"></div><div style="left:2142px;top:388px;width:165px;height:36px;"></div><div style="left:2135px;top:404px;width:4px;height:4px;"></div><div style="left:959px;top:427px;width:1348px;height:626px;"></div><div style="left:960px;top:428px;width:1338px;height:624px;"></div><div style="left:960px;top:357px;width:1338px;height:764px;clip-path:inset(71px 0px 69px 0px);"></div><div style="left:2297px;top:428px;width:10px;height:624px;"></div><div style="left:2297px;top:428px;width:10px;height:10px;"></div><div style="left:2298px;top:429px;width:8px;height:8px;"></div><div style="left:2297px;top:1042px;width:10px;height:10px;"></div><div style="left:2298px;top:1043px;width:8px;height:8px;"></div><div style="left:2297px;top:438px;width:10px;height:604px;"></div><div style="left:2297px;top:486px;width:10px;height:508px;"></div><div style="left:959px;top:1056px;width:1348px;height:30px;"></div><div style="left:960px;top:1057px;width:1346px;height:28px;"></div><div style="left:960px;top:1057px;width:809px;height:26px;"></div><div style="left:85px;top:-213px;width:702px;height:314px;"></div><div style="left:85px;top:76px;width:25px;height:25px;"></div><div style="left:762px;top:76px;width:25px;height:25px;"></div><div style="left:85px;top:-213px;width:7px;height:314px;"></div><div style="left:780px;top:-213px;width:7px;height:314px;"></div><div style="left:85px;top:94px;width:702px;height:7px;"></div><div style="left:92px;top:-172px;width:688px;height:266px;"></div><div style="left:93px;top:-171px;width:686px;height:264px;"></div><div style="left:-98px;top:-105px;width:771px;height:371px;"></div><div style="left:648px;top:241px;width:25px;height:25px;"></div></div><div class="lb"><span class="r" style="left:1573.0px;top:941.0px;letter-spacing:0.64px">a XRayMorph(1573286)</span><span class="r" style="left:1121.0px;top:586.0px;letter-spacing:0.54px">TopLeftGrip</span><span class="r" style="left:2134.0px;top:586.0px;letter-spacing:0.52px">TopRightGrip</span><span class="r" style="left:1104.0px;top:1339.0px;letter-spacing:0.82px">BottomLeftGrip</span><span class="r" style="left:2117.0px;top:1339.0px;letter-spacing:0.79px">BottomRightGrip</span><span class="r" style="left:1129.0px;top:963.0px;letter-spacing:0.64px">LeftGrip</span><span class="r" style="left:2161.0px;top:963.0px;letter-spacing:0.61px">RightGrip</span><span class="r" style="left:1649.0px;top:577.0px;letter-spacing:0.42px">TopGrip</span><span class="r" style="left:1638.0px;top:597.0px;letter-spacing:0.94px">Alignment</span><span class="r" style="left:1078.0px;top:614.0px;letter-spacing:0.79px">SystemWindowButton</span><span class="r" style="left:1150.0px;top:636.0px;letter-spacing:0.59px">Sketch</span><span class="r" style="left:1167.0px;top:614.0px;letter-spacing:0.65px">Morph</span><span class="r" style="left:1640.0px;top:614.0px;letter-spacing:0.74px">String</span><span class="r" style="left:2043.0px;top:614.0px;letter-spacing:0.79px">SystemWindowButton</span><span class="r" style="left:2115.0px;top:636.0px;letter-spacing:0.59px">Sketch</span><span class="r" style="left:2065.0px;top:614.0px;letter-spacing:0.79px">SystemWindowButton</span><span class="r" style="left:2137.0px;top:636.0px;letter-spacing:0.59px">Sketch</span><span class="r" style="left:2087.0px;top:614.0px;letter-spacing:0.79px">SystemWindowButton</span><span class="r" style="left:2159.0px;top:636.0px;letter-spacing:0.59px">Sketch</span><span class="r" style="left:1618.0px;top:874.0px;letter-spacing:0.48px">PluggableTree</span><span class="r" style="left:1638.0px;top:896.0px;letter-spacing:0.73px">Transform</span><span class="r" style="left:1594.0px;top:1136.0px;letter-spacing:0.74px">ProportionalSplitter</span><span class="r" style="left:1526.0px;top:1242.0px;letter-spacing:0.49px">PluggableTextMorphPlus</span><span class="r" style="left:1595.0px;top:1264.0px;letter-spacing:0.73px">Transform</span><span class="r" style="left:1535.0px;top:1209.0px;letter-spacing:0.56px">TextMorphForEditView</span><span class="r" style="left:2035.0px;top:1242.0px;letter-spacing:0.56px">PluggableButtonMorphPlus</span><span class="r" style="left:1137.0px;top:805.0px;letter-spacing:0.62px">Senders of addCornerGrips [6]</span><span class="r" style="left:769.0px;top:525.0px;letter-spacing:0.54px">TopLeftGrip</span><span class="r" style="left:1678.0px;top:525.0px;letter-spacing:0.52px">TopRightGrip</span><span class="r" style="left:752.0px;top:1129.0px;letter-spacing:0.82px">BottomLeftGrip</span><span class="r" style="left:1661.0px;top:1129.0px;letter-spacing:0.79px">BottomRightGrip</span><span class="r" style="left:777.0px;top:827.0px;letter-spacing:0.64px">LeftGrip</span><span class="r" style="left:1705.0px;top:827.0px;letter-spacing:0.61px">RightGrip</span><span class="r" style="left:1245.0px;top:516.0px;letter-spacing:0.42px">TopGrip</span><span class="r" style="left:1228.0px;top:1138.0px;letter-spacing:0.84px">BottomGrip</span><span class="r" style="left:1234.0px;top:536.0px;letter-spacing:0.94px">Alignment</span><span class="r" style="left:726.0px;top:553.0px;letter-spacing:0.79px">SystemWindowButton</span><span class="r" style="left:798.0px;top:575.0px;letter-spacing:0.59px">Sketch</span><span class="r" style="left:815.0px;top:553.0px;letter-spacing:0.65px">Morph</span><span class="r" style="left:1236.0px;top:553.0px;letter-spacing:0.74px">String</span><span class="r" style="left:1587.0px;top:553.0px;letter-spacing:0.79px">SystemWindowButton</span><span class="r" style="left:1659.0px;top:575.0px;letter-spacing:0.59px">Sketch</span><span class="r" style="left:1609.0px;top:553.0px;letter-spacing:0.79px">SystemWindowButton</span><span class="r" style="left:1681.0px;top:575.0px;letter-spacing:0.59px">Sketch</span><span class="r" style="left:1631.0px;top:553.0px;letter-spacing:0.79px">SystemWindowButton</span><span class="r" style="left:1703.0px;top:575.0px;letter-spacing:0.59px">Sketch</span><span class="r" style="left:1170.0px;top:640.0px;letter-spacing:0.44px">PluggableListMorphPlus</span><span class="r" style="left:1234.0px;top:662.0px;letter-spacing:0.73px">Transform</span><span class="r" style="left:1292.0px;top:665.0px;letter-spacing:0.41px">LazyList</span><span class="r" style="left:1190.0px;top:730.0px;letter-spacing:0.74px">ProportionalSplitter</span><span class="r" style="left:1210.0px;top:934.0px;letter-spacing:0.40px">PluggablePanel</span><span class="r" style="left:1210.0px;top:773.0px;letter-spacing:0.40px">PluggablePanel</span><span class="r" style="left:748.0px;top:795.0px;letter-spacing:0.56px">PluggableButtonMorphPlus</span><span class="r" style="left:863.0px;top:795.0px;letter-spacing:0.56px">PluggableButtonMorphPlus</span><span class="r" style="left:979.0px;top:795.0px;letter-spacing:0.56px">PluggableButtonMorphPlus</span><span class="r" style="left:1094.0px;top:795.0px;letter-spacing:0.56px">PluggableButtonMorphPlus</span><span class="r" style="left:1209.0px;top:795.0px;letter-spacing:0.56px">PluggableButtonMorphPlus</span><span class="r" style="left:1325.0px;top:795.0px;letter-spacing:0.56px">PluggableButtonMorphPlus</span><span class="r" style="left:1440.0px;top:795.0px;letter-spacing:0.56px">PluggableButtonMorphPlus</span><span class="r" style="left:1563.0px;top:795.0px;letter-spacing:0.56px">PluggableButtonMorphPlus</span><span class="r" style="left:1600.0px;top:795.0px;letter-spacing:0.65px">Morph</span><span class="r" style="left:1165.0px;top:958.0px;letter-spacing:0.49px">PluggableTextMorphPlus</span><span class="r" style="left:1234.0px;top:980.0px;letter-spacing:0.73px">Transform</span><span class="r" style="left:1175.0px;top:886.0px;letter-spacing:0.56px">TextMorphForEditView</span><span class="r" style="left:1165.0px;top:1141.0px;letter-spacing:0.49px">PluggableTextMorphPlus</span><span class="r" style="left:1234.0px;top:1163.0px;letter-spacing:0.73px">Transform</span><span class="r" style="left:1053.0px;top:1184.0px;letter-spacing:0.56px">TextMorphForEditView</span><span class="r" style="left:462.0px;top:864.0px;letter-spacing:0.54px">System Browser: XRayMorph</span><span class="r" style="left:1223.0px;top:350.0px;letter-spacing:0.52px">TopRightGrip</span><span class="r" style="left:1250.0px;top:886.0px;letter-spacing:0.61px">RightGrip</span><span class="r" style="left:562.0px;top:341.0px;letter-spacing:0.42px">TopGrip</span><span class="r" style="left:551.0px;top:361.0px;letter-spacing:0.94px">Alignment</span><span class="r" style="left:-185.0px;top:378.0px;letter-spacing:0.79px">SystemWindowButton</span><span class="r" style="left:553.0px;top:378.0px;letter-spacing:0.74px">String</span><span class="r" style="left:1132.0px;top:378.0px;letter-spacing:0.79px">SystemWindowButton</span><span class="r" style="left:1204.0px;top:400.0px;letter-spacing:0.59px">Sketch</span><span class="r" style="left:1154.0px;top:378.0px;letter-spacing:0.79px">SystemWindowButton</span><span class="r" style="left:1226.0px;top:400.0px;letter-spacing:0.59px">Sketch</span><span class="r" style="left:1176.0px;top:378.0px;letter-spacing:0.79px">SystemWindowButton</span><span class="r" style="left:1248.0px;top:400.0px;letter-spacing:0.59px">Sketch</span><span class="r" style="left:-31.0px;top:599.0px;letter-spacing:0.44px">PluggableListMorphPlus</span><span class="r" style="left:29.0px;top:621.0px;letter-spacing:0.73px">Transform</span><span class="r" style="left:207.0px;top:621.0px;letter-spacing:0.43px">ScrollBar</span><span class="r" style="left:202.0px;top:429.0px;letter-spacing:0.61px">Rectangle</span><span class="r" style="left:220.0px;top:451.0px;letter-spacing:0.78px">Image</span><span class="r" style="left:202.0px;top:857.0px;letter-spacing:0.61px">Rectangle</span><span class="r" style="left:220.0px;top:879.0px;letter-spacing:0.78px">Image</span><span class="r" style="left:202.0px;top:643.0px;letter-spacing:0.61px">Rectangle</span><span class="r" style="left:202.0px;top:439.0px;letter-spacing:0.61px">Rectangle</span><span class="r" style="left:318.0px;top:579.0px;letter-spacing:0.44px">PluggableListMorphPlus</span><span class="r" style="left:382.0px;top:601.0px;letter-spacing:0.73px">Transform</span><span class="r" style="left:401.0px;top:435.0px;letter-spacing:0.41px">LazyList</span><span class="r" style="left:664.0px;top:599.0px;letter-spacing:0.44px">PluggableListMorphPlus</span><span class="r" style="left:728.0px;top:621.0px;letter-spacing:0.73px">Transform</span><span class="r" style="left:747.0px;top:446.0px;letter-spacing:0.41px">LazyList</span><span class="r" style="left:1009.0px;top:599.0px;letter-spacing:0.44px">PluggableListMorphPlus</span><span class="r" style="left:1073.0px;top:621.0px;letter-spacing:0.73px">Transform</span><span class="r" style="left:1092.0px;top:589.0px;letter-spacing:0.41px">LazyList</span><span class="r" style="left:358.0px;top:803.0px;letter-spacing:0.40px">PluggablePanel</span><span class="r" style="left:212.0px;top:825.0px;letter-spacing:0.56px">PluggableButtonMorphPlus</span><span class="r" style="left:371.0px;top:825.0px;letter-spacing:0.56px">PluggableButtonMorphPlus</span><span class="r" style="left:464.0px;top:825.0px;letter-spacing:0.56px">PluggableButtonMorphPlus</span><span class="r" style="left:551.0px;top:825.0px;letter-spacing:0.65px">Morph</span><span class="r" style="left:165.0px;top:599.0px;letter-spacing:0.74px">ProportionalSplitter</span><span class="r" style="left:511.0px;top:583.0px;letter-spacing:0.74px">ProportionalSplitter</span><span class="r" style="left:857.0px;top:599.0px;letter-spacing:0.74px">ProportionalSplitter</span><span class="r" style="left:507.0px;top:822.0px;letter-spacing:0.74px">ProportionalSplitter</span><span class="r" style="left:527.0px;top:1126.0px;letter-spacing:0.40px">PluggablePanel</span><span class="r" style="left:527.0px;top:865.0px;letter-spacing:0.40px">PluggablePanel</span><span class="r" style="left:-135.0px;top:887.0px;letter-spacing:0.56px">PluggableButtonMorphPlus</span><span class="r" style="left:38.0px;top:887.0px;letter-spacing:0.56px">PluggableButtonMorphPlus</span><span class="r" style="left:210.0px;top:887.0px;letter-spacing:0.56px">PluggableButtonMorphPlus</span><span class="r" style="left:382.0px;top:887.0px;letter-spacing:0.56px">PluggableButtonMorphPlus</span><span class="r" style="left:555.0px;top:887.0px;letter-spacing:0.56px">PluggableButtonMorphPlus</span><span class="r" style="left:727.0px;top:887.0px;letter-spacing:0.56px">PluggableButtonMorphPlus</span><span class="r" style="left:900.0px;top:887.0px;letter-spacing:0.56px">PluggableButtonMorphPlus</span><span class="r" style="left:1079.0px;top:887.0px;letter-spacing:0.56px">PluggableButtonMorphPlus</span><span class="r" style="left:1088.0px;top:887.0px;letter-spacing:0.65px">Morph</span><span class="r" style="left:482.0px;top:1151.0px;letter-spacing:0.49px">PluggableTextMorphPlus</span><span class="r" style="left:551.0px;top:1173.0px;letter-spacing:0.73px">Transform</span><span class="r" style="left:492.0px;top:1039.0px;letter-spacing:0.56px">TextMorphForEditView</span><span class="r" style="left:1496.0px;top:450.0px;letter-spacing:0.54px">System Browser: XRayMorph</span><span class="r" style="left:892.0px;top:1090.0px;letter-spacing:0.82px">BottomLeftGrip</span><span class="r" style="left:2222.0px;top:1090.0px;letter-spacing:0.79px">BottomRightGrip</span><span class="r" style="left:917.0px;top:472.0px;letter-spacing:0.64px">LeftGrip</span><span class="r" style="left:2266.0px;top:472.0px;letter-spacing:0.61px">RightGrip</span><span class="r" style="left:1579.0px;top:1099.0px;letter-spacing:0.84px">BottomGrip</span><span class="r" style="left:1015.0px;top:136.0px;letter-spacing:0.44px">PluggableListMorphPlus</span><span class="r" style="left:1075.0px;top:158.0px;letter-spacing:0.73px">Transform</span><span class="r" style="left:1249.0px;top:158.0px;letter-spacing:0.43px">ScrollBar</span><span class="r" style="left:1244.0px;top:429.0px;letter-spacing:0.61px">Rectangle</span><span class="r" style="left:1262.0px;top:451.0px;letter-spacing:0.78px">Image</span><span class="r" style="left:1244.0px;top:180.0px;letter-spacing:0.61px">Rectangle</span><span class="r" style="left:1355.0px;top:117.0px;letter-spacing:0.44px">PluggableListMorphPlus</span><span class="r" style="left:1419.0px;top:139.0px;letter-spacing:0.73px">Transform</span><span class="r" style="left:1692.0px;top:136.0px;letter-spacing:0.44px">PluggableListMorphPlus</span><span class="r" style="left:1756.0px;top:158.0px;letter-spacing:0.73px">Transform</span><span class="r" style="left:2029.0px;top:136.0px;letter-spacing:0.44px">PluggableListMorphPlus</span><span class="r" style="left:2093.0px;top:158.0px;letter-spacing:0.73px">Transform</span><span class="r" style="left:2115.0px;top:92.0px;letter-spacing:0.41px">LazyList</span><span class="r" style="left:1395.0px;top:375.0px;letter-spacing:0.40px">PluggablePanel</span><span class="r" style="left:1252.0px;top:397.0px;letter-spacing:0.56px">PluggableButtonMorphPlus</span><span class="r" style="left:1406.0px;top:397.0px;letter-spacing:0.56px">PluggableButtonMorphPlus</span><span class="r" style="left:1497.0px;top:397.0px;letter-spacing:0.56px">PluggableButtonMorphPlus</span><span class="r" style="left:1584.0px;top:397.0px;letter-spacing:0.65px">Morph</span><span class="r" style="left:1207.0px;top:136.0px;letter-spacing:0.74px">ProportionalSplitter</span><span class="r" style="left:1544.0px;top:120.0px;letter-spacing:0.74px">ProportionalSplitter</span><span class="r" style="left:1881.0px;top:136.0px;letter-spacing:0.74px">ProportionalSplitter</span><span class="r" style="left:1541.0px;top:394.0px;letter-spacing:0.74px">ProportionalSplitter</span><span class="r" style="left:1561.0px;top:747.0px;letter-spacing:0.40px">PluggablePanel</span><span class="r" style="left:1561.0px;top:438.0px;letter-spacing:0.40px">PluggablePanel</span><span class="r" style="left:914.0px;top:460.0px;letter-spacing:0.56px">PluggableButtonMorphPlus</span><span class="r" style="left:1082.0px;top:460.0px;letter-spacing:0.56px">PluggableButtonMorphPlus</span><span class="r" style="left:1250.0px;top:460.0px;letter-spacing:0.56px">PluggableButtonMorphPlus</span><span class="r" style="left:1418.0px;top:460.0px;letter-spacing:0.56px">PluggableButtonMorphPlus</span><span class="r" style="left:1586.0px;top:460.0px;letter-spacing:0.56px">PluggableButtonMorphPlus</span><span class="r" style="left:1754.0px;top:460.0px;letter-spacing:0.56px">PluggableButtonMorphPlus</span><span class="r" style="left:1922.0px;top:460.0px;letter-spacing:0.56px">PluggableButtonMorphPlus</span><span class="r" style="left:2097.0px;top:460.0px;letter-spacing:0.56px">PluggableButtonMorphPlus</span><span class="r" style="left:2108.0px;top:460.0px;letter-spacing:0.65px">Morph</span><span class="r" style="left:1516.0px;top:772.0px;letter-spacing:0.49px">PluggableTextMorphPlus</span><span class="r" style="left:1581.0px;top:794.0px;letter-spacing:0.73px">Transform</span><span class="r" style="left:1522.0px;top:815.0px;letter-spacing:0.56px">TextMorphForEditView</span><span class="r" style="left:2260.0px;top:794.0px;letter-spacing:0.43px">ScrollBar</span><span class="r" style="left:2255.0px;top:509.0px;letter-spacing:0.61px">Rectangle</span><span class="r" style="left:2273.0px;top:531.0px;letter-spacing:0.78px">Image</span><span class="r" style="left:2255.0px;top:1123.0px;letter-spacing:0.61px">Rectangle</span><span class="r" style="left:2273.0px;top:1145.0px;letter-spacing:0.78px">Image</span><span class="r" style="left:2255.0px;top:816.0px;letter-spacing:0.61px">Rectangle</span><span class="r" style="left:2255.0px;top:816.0px;letter-spacing:0.61px">Rectangle</span><span class="r" style="left:1516.0px;top:1103.0px;letter-spacing:0.49px">PluggableTextMorphPlus</span><span class="r" style="left:1585.0px;top:1125.0px;letter-spacing:0.73px">Transform</span><span class="r" style="left:1257.0px;top:1146.0px;letter-spacing:0.56px">TextMorphForEditView</span><span class="r" style="left:25.0px;top:98.0px;letter-spacing:0.82px">BottomLeftGrip</span><span class="r" style="left:695.0px;top:98.0px;letter-spacing:0.79px">BottomRightGrip</span><span class="r" style="left:382.0px;top:107.0px;letter-spacing:0.84px">BottomGrip</span><span class="r" style="left:388.0px;top:-7.0px;letter-spacing:0.73px">Transform</span><span class="r" style="left:263.0px;top:68.0px;letter-spacing:0.05px">XRay</span><span class="r" style="left:581.0px;top:263.0px;letter-spacing:0.79px">BottomRightGrip</span></div></div><div class="xray" style="left:194px;top:228px;width:771px;height:371px"><div class="xb"></div><div class="g"><div style="left:-38px;top:-528px;width:358px;height:590px;"></div><div style="left:295px;top:37px;width:25px;height:25px;"></div><div style="left:-38px;top:56px;width:358px;height:6px;"></div><div style="left:-33px;top:-518px;width:348px;height:575px;"></div><div class="nf" style="left:-31px;top:-516px;width:344px;height:571px;"></div><div style="left:-33px;top:37px;width:348px;height:20px;"></div><div style="left:183px;top:-108px;width:702px;height:314px;"></div><div style="left:183px;top:181px;width:25px;height:25px;"></div><div style="left:183px;top:-108px;width:7px;height:314px;"></div><div style="left:183px;top:199px;width:702px;height:7px;"></div><div style="left:190px;top:-67px;width:688px;height:266px;"></div><div style="left:191px;top:-66px;width:686px;height:264px;"></div><div style="left:98px;top:105px;width:2391px;height:1349px;"></div><div style="left:98px;top:105px;width:25px;height:25px;"></div></div><div class="lb"><span class="r" style="left:-98.0px;top:59.0px;letter-spacing:0.82px">BottomLeftGrip</span><span class="r" style="left:228.0px;top:59.0px;letter-spacing:0.79px">BottomRightGrip</span><span class="r" style="left:87.0px;top:69.0px;letter-spacing:0.84px">BottomGrip</span><span class="r" style="left:93.0px;top:79.0px;letter-spacing:0.94px">Alignment</span><span class="r" style="left:482.0px;top:37.0px;letter-spacing:0.55px">Workspace</span><span class="r" style="left:123.0px;top:203.0px;letter-spacing:0.82px">BottomLeftGrip</span><span class="r" style="left:148.0px;top:59.0px;letter-spacing:0.64px">LeftGrip</span><span class="r" style="left:480.0px;top:212.0px;letter-spacing:0.84px">BottomGrip</span><span class="r" style="left:417.0px;top:76.0px;letter-spacing:0.49px">PluggableTextMorphPlus</span><span class="r" style="left:486.0px;top:98.0px;letter-spacing:0.73px">Transform</span><span class="r" style="left:426.0px;top:1.0px;letter-spacing:0.56px">TextMorphForEditView</span><span class="r" style="left:55.0px;top:127.0px;letter-spacing:0.54px">TopLeftGrip</span></div></div></body></html>
